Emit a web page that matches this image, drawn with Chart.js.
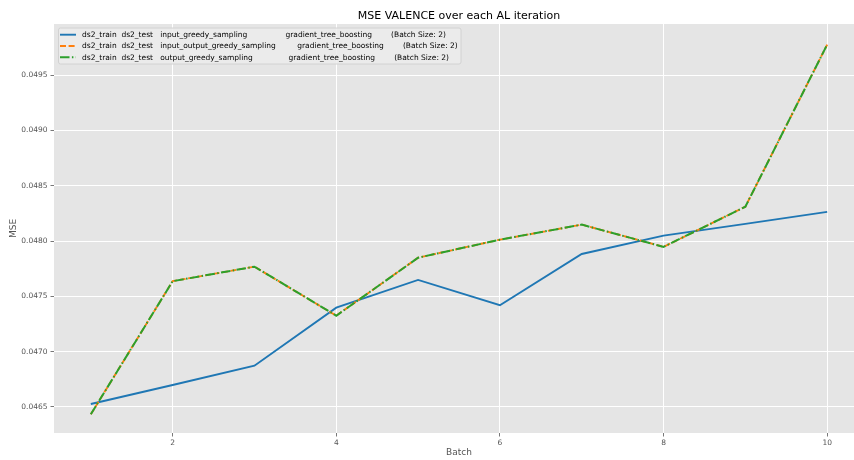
<!DOCTYPE html>
<html>
<head>
<meta charset="utf-8">
<script src="https://cdn.jsdelivr.net/npm/chart.js@4/dist/chart.umd.min.js"></script>
<style>
    html, body { margin: 0; padding: 0; background: #ffffff; overflow: hidden; }
    #wrap { width: 874px; height: 460px; }
</style>
</head>
<body>
<div id="wrap"><canvas id="mseChart"></canvas></div>
<script>
const batches = [1, 2, 3, 4, 5, 6, 7, 8, 9, 10];
const mseInputGreedy = [0.046527, 0.046699, 0.046873, 0.047398, 0.047648, 0.047420, 0.047883, 0.048049, 0.048155, 0.048263];
const mseInputOutputGreedy = [0.046434, 0.047637, 0.047768, 0.047325, 0.047849, 0.048012, 0.048148, 0.047947, 0.048310, 0.049775];
const mseOutputGreedy = [0.046434, 0.047637, 0.047768, 0.047325, 0.047849, 0.048012, 0.048148, 0.047947, 0.048310, 0.049775];

const xTicks = [2, 4, 6, 8, 10];
const yTicks = [0.0465, 0.0470, 0.0475, 0.0480, 0.0485, 0.0490, 0.0495];

const seriesLabels = [
    'ds2_train  ds2_test   input_greedy_sampling                gradient_tree_boosting        (Batch Size: 2)',
    'ds2_train  ds2_test   input_output_greedy_sampling         gradient_tree_boosting        (Batch Size: 2)',
    'ds2_train  ds2_test   output_greedy_sampling               gradient_tree_boosting        (Batch Size: 2)'
];

const cores = {
    azul: '#1f77b4',
    laranja: '#ff7f0e',
    verde: '#2ca02c',
    fundo: '#e5e5e5',
    texto: '#555555'
};

Chart.defaults.font.family = "'DejaVu Sans', sans-serif";

const pontos = (ys) => batches.map((b, i) => ({ x: b, y: ys[i] }));

// fundo cinza da área do gráfico (estilo ggplot)
const fundoPlugin = {
    id: 'fundo',
    beforeDraw(chart) {
        const { ctx, chartArea: a } = chart;
        ctx.save();
        ctx.fillStyle = cores.fundo;
        ctx.fillRect(a.left, a.top, a.right - a.left, a.bottom - a.top);
        ctx.restore();
    }
};

// legenda dentro da área, canto superior esquerdo
const legendaPlugin = {
    id: 'legendaMpl',
    afterDatasetsDraw(chart) {
        const { ctx } = chart;
        const x0 = 58.5, y0 = 28, w = 402.5, h = 36;
        ctx.save();
        ctx.beginPath();
        ctx.roundRect(x0, y0, w, h, 2);
        ctx.fillStyle = 'rgba(236,236,236,0.85)';
        ctx.fill();
        ctx.strokeStyle = '#d2d2d2';
        ctx.lineWidth = 1;
        ctx.stroke();
        ctx.font = "7.5px 'DejaVu Sans'";
        ctx.textBaseline = 'middle';
        chart.data.datasets.forEach((ds, i) => {
            const y = 34.7 + i * 11.3;
            ctx.beginPath();
            ctx.setLineDash(ds.borderDash || []);
            ctx.strokeStyle = ds.borderColor;
            ctx.lineWidth = ds.borderWidth;
            ctx.moveTo(60, y);
            ctx.lineTo(76, y);
            ctx.stroke();
            ctx.setLineDash([]);
            ctx.fillStyle = '#000000';
            ctx.fillText(ds.label, 82, y + 0.5);
        });
        ctx.restore();
    }
};

new Chart(document.getElementById('mseChart'), {
    type: 'line',
    data: {
        datasets: [
            {
                label: seriesLabels[0],
                data: pontos(mseInputGreedy),
                borderColor: cores.azul,
                borderWidth: 1.9,
                pointRadius: 0,
                tension: 0,
                fill: false,
                order: 3
            },
            {
                label: seriesLabels[1],
                data: pontos(mseInputOutputGreedy),
                borderColor: cores.laranja,
                borderWidth: 1.9,
                borderDash: [6, 2.6],
                pointRadius: 0,
                tension: 0,
                fill: false,
                order: 2
            },
            {
                label: seriesLabels[2],
                data: pontos(mseOutputGreedy),
                borderColor: cores.verde,
                borderWidth: 2,
                borderDash: [9.5, 2.4, 1.5, 2.4],
                pointRadius: 0,
                tension: 0,
                fill: false,
                order: 1
            }
        ]
    },
    options: {
        responsive: true,
        maintainAspectRatio: false,
        animation: false,
        layout: { padding: { left: 0, right: 10, top: 0, bottom: 0 } },
        plugins: {
            legend: { display: false },
            tooltip: { enabled: false },
            title: {
                display: true,
                text: 'MSE VALENCE over each AL iteration',
                color: '#000000',
                fullSize: false,
                font: { size: 11, weight: 'normal', lineHeight: 1.2 },
                padding: { top: 9.4, bottom: 1.4 }
            }
        },
        scales: {
            x: {
                type: 'linear',
                min: 0.55,
                max: 10.45,
                afterBuildTicks: (scale) => { scale.ticks = xTicks.map(v => ({ value: v })); },
                afterFit: (scale) => { scale.height = 27; },
                border: { display: false },
                grid: {
                    color: '#ffffff',
                    lineWidth: 1,
                    tickColor: cores.texto,
                    tickLength: 3.5,
                    tickWidth: 0.8
                },
                ticks: {
                    color: cores.texto,
                    font: { size: 7.5 },
                    padding: 2,
                    maxRotation: 0,
                    autoSkip: false,
                    callback: (v) => String(v)
                },
                title: {
                    display: true,
                    text: 'Batch',
                    color: cores.texto,
                    font: { size: 9 },
                    padding: { top: 0, bottom: 1.6 }
                }
            },
            y: {
                min: 0.046265,
                max: 0.049961,
                afterBuildTicks: (scale) => { scale.ticks = yTicks.map(v => ({ value: v })); },
                afterFit: (scale) => { scale.width = 54; },
                border: { display: false },
                grid: {
                    color: '#ffffff',
                    lineWidth: 1,
                    tickColor: cores.texto,
                    tickLength: 3.5,
                    tickWidth: 0.8
                },
                ticks: {
                    color: cores.texto,
                    font: { size: 7.5 },
                    padding: 3,
                    autoSkip: false,
                    callback: (v) => v.toFixed(4)
                },
                title: {
                    display: true,
                    text: 'MSE',
                    color: cores.texto,
                    font: { size: 9 },
                    padding: { top: 8, bottom: 0 }
                }
            }
        }
    },
    plugins: [fundoPlugin, legendaPlugin]
});
</script>
</body>
</html>
